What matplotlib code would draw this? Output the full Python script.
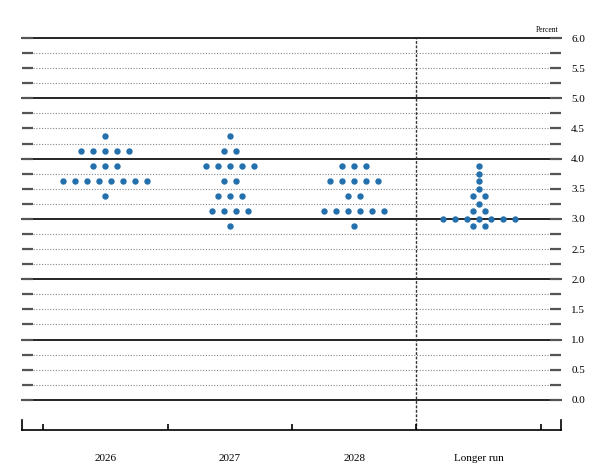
import numpy as np
import matplotlib.pyplot as plt

plt.rcParams['font.family'] = ['Liberation Serif', 'DejaVu Serif']

columns = ['2026', '2027', '2028', 'Longer run']

# rate midpoints and number of participants at each
rates_2026 = [4.375, 4.125, 3.875, 3.625, 3.375]
counts_2026 = [1, 5, 3, 8, 1]

rates_2027 = [4.375, 4.125, 3.875, 3.625, 3.375, 3.125, 2.875]
counts_2027 = [1, 2, 5, 2, 3, 4, 1]

rates_2028 = [3.875, 3.625, 3.375, 3.125, 2.875]
counts_2028 = [3, 5, 2, 6, 1]

rates_lr = [3.875, 3.75, 3.625, 3.5, 3.375, 3.25, 3.125, 3.0, 2.875]
counts_lr = [1, 1, 1, 1, 2, 1, 2, 7, 2]

all_rates = [rates_2026, rates_2027, rates_2028, rates_lr]
all_counts = [counts_2026, counts_2027, counts_2028, counts_lr]

fig = plt.figure(figsize=(6.08, 4.75), dpi=100)
ax = fig.add_axes([0.0362, 0.0947, 0.8873, 0.8253])

xmin, xmax = 0.329, 4.666
ymin, ymax = -0.5, 6.0
ax.set_xlim(xmin, xmax)
ax.set_ylim(ymin, ymax)

# horizontal lines
levels = np.arange(0, 6.01, 0.25)
for lv in levels:
    if abs(lv - round(lv)) < 1e-9:
        ax.axhline(lv, color='black', lw=1.2, zorder=1, clip_on=False)
    else:
        ax.axhline(lv, color='#888888', lw=0.8, ls=(0, (1, 1.5)), zorder=1)

# longer run separator
ax.plot([3.5, 3.5], [ymin, ymax], color='#333333', lw=1.0, ls=(0, (2, 1.2)),
        zorder=1, clip_on=False)

# dots
step = 0.0965
for i, (rates, counts) in enumerate(zip(all_rates, all_counts)):
    for r, n in zip(rates, counts):
        xs = (i + 1) + (np.arange(n) - (n - 1) / 2) * step
        ax.plot(xs, [r] * n, 'o', color='#2370ad', ms=4.6, mec='none', zorder=3)

# spines
for s in ['top', 'left', 'right']:
    ax.spines[s].set_visible(False)
ax.spines['bottom'].set_linewidth(1.2)
ax.plot([xmin, xmin], [ymin, ymin + 0.165], color='black', lw=1.2, clip_on=False)
ax.plot([xmax, xmax], [ymin, ymin + 0.165], color='black', lw=1.2, clip_on=False)

# y ticks
ax.set_yticks(levels)
ax.set_yticklabels(['%.1f' % lv if abs(lv * 2 - round(lv * 2)) < 1e-9 else '' for lv in levels])
ax.tick_params(axis='y', direction='in', length=8, width=1.6, color='#555555',
               left=True, right=True, labelleft=False, labelright=True,
               labelsize=8, pad=7)

# x ticks
ax.set_xticks([0.5, 1.5, 2.5, 3.5, 4.5])
ax.set_xticklabels([])
ax.set_xticks([1, 2, 3, 4], minor=True)
ax.set_xticklabels(columns, minor=True)
ax.tick_params(axis='x', which='major', direction='in', length=4.5, width=1.2)
ax.tick_params(axis='x', which='minor', length=0, labelsize=8, pad=17)

ax.text(xmax - 0.02, ymax + 0.06, 'Percent', ha='right', va='bottom', fontsize=5.5)

plt.savefig('out.png', dpi=100)
